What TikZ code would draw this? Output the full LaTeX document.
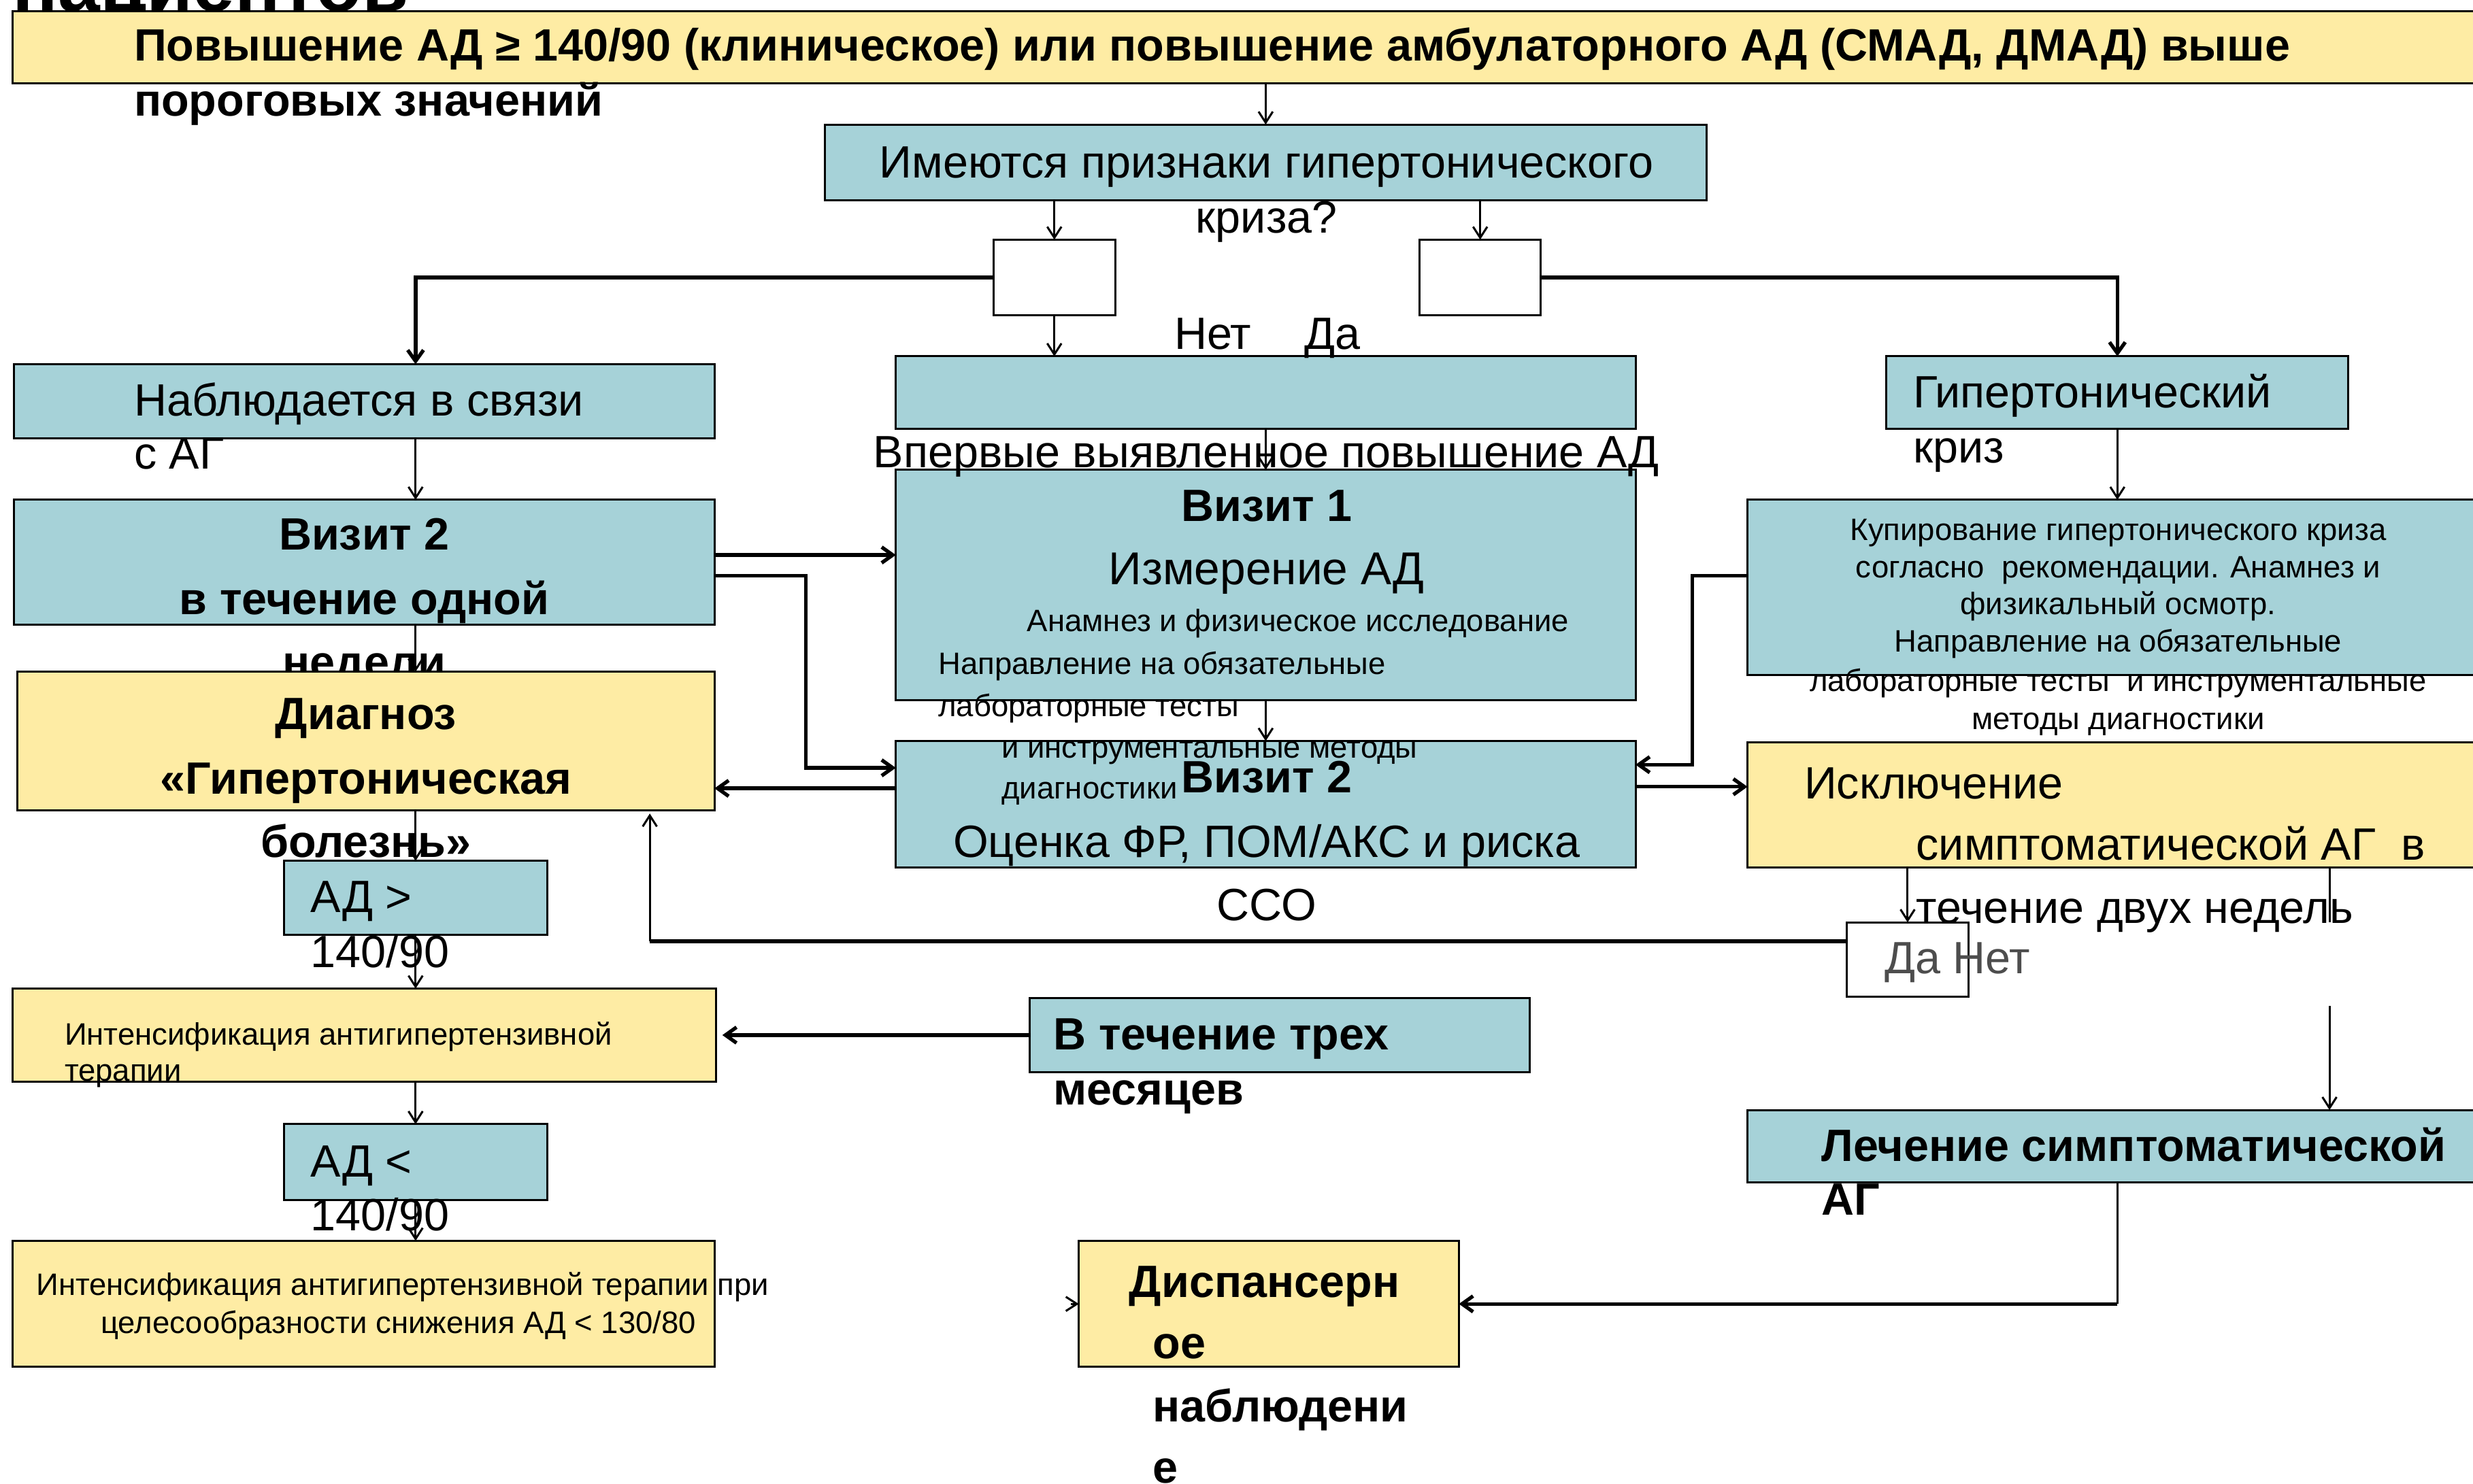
\documentclass[tikz,border=0pt]{standalone}
\usepackage{fontspec}
\setmainfont{Liberation Sans}
\usetikzlibrary{arrows.meta}
\definecolor{boxblue}{HTML}{A6D2D8}
\definecolor{boxyellow}{HTML}{FEECA4}
\definecolor{labelgray}{HTML}{4D4D4D}

\tikzset{
  boxbase/.style={draw=black, line width=1.3bp, inner sep=0, outer sep=0, rectangle},
  bluebox/.style={boxbase, fill=boxblue},
  yellowbox/.style={boxbase, fill=boxyellow},
  whitebox/.style={boxbase, fill=white},
  txt/.style={inner sep=0, outer sep=0, anchor=mid, yshift=-7bp},
  tbig/.style={txt, font=\fontsize{28.8}{28.8}\selectfont},
  tbigb/.style={txt, font=\fontsize{28.8}{28.8}\selectfont\bfseries},
  tsmall/.style={txt, yshift=3bp, font=\fontsize{19.7}{19.7}\selectfont},
  arr/.style={line width=1.3bp, -{Straight Barb[length=7bp,width=9bp]}},
  tarr/.style={line width=2.3bp, -{Straight Barb[length=7bp,width=10bp]}},
  tline/.style={line width=2.3bp},
  nline/.style={line width=1.3bp},
}
% box from its corners (x1,y1)-(x2,y2), y counted downwards
\newcommand\mkbox[6]{\node[#6, minimum width={#4bp-#2bp}, minimum height={#5bp-#3bp}] (#1) at ({(#2+#4)/2},{(#3+#5)/2}) {};}

\begin{document}
\begin{tikzpicture}[x=1bp,y=-1bp]
\useasboundingbox (0,0) rectangle (1568,941);
\clip (0,0) rectangle (1568,941);

% heading cut off at the top edge
\node[tbigb, anchor=base west] (head) at (8,0) {\fontsize{48}{48}\selectfont пациентов};

% boxes
\mkbox{top}{8}{7}{1580}{53}{yellowbox}
\mkbox{im}{523}{79}{1082}{127}{bluebox}
\mkbox{w1}{630}{152}{707}{200}{whitebox}
\mkbox{w2}{900}{152}{977}{200}{whitebox}
\mkbox{nab}{9}{231}{453}{278}{bluebox}
\mkbox{vp}{568}{226}{1037}{272}{bluebox}
\mkbox{gk}{1196}{226}{1489}{272}{bluebox}
\mkbox{vis2l}{9}{317}{453}{396}{bluebox}
\mkbox{v1}{568}{298}{1037}{444}{bluebox}
\mkbox{kup}{1108}{317}{1580}{428}{bluebox}
\mkbox{v2}{568}{470}{1037}{550}{bluebox}
\mkbox{isk}{1108}{471}{1580}{550}{yellowbox}
\mkbox{ad1}{180}{546}{347}{593}{bluebox}
\mkbox{dn}{1171}{585}{1248}{632}{whitebox}
\mkbox{int1}{8}{627}{454}{686}{yellowbox}
\mkbox{tri}{653}{633}{970}{680}{bluebox}
\mkbox{ad2}{180}{713}{347}{761}{bluebox}
\mkbox{int2}{8}{787}{453}{867}{yellowbox}
\mkbox{disp}{684}{787}{925}{867}{yellowbox}
\mkbox{lech}{1108}{704}{1580}{750}{bluebox}

% second visit text overflowing under the diagnosis box
\draw[arr] (vis2l.south -| ad1) -- (ad1 |- 0,426);
\node[tbigb] (vl3) at (231,420) {недели};
\mkbox{diag}{11}{426}{453}{514}{yellowbox}

% connectors
\draw[arr] (im.north |- top.south) -- (im.north);
\draw[arr] (im.south -| w1) -- (w1.north);
\draw[arr] (im.south -| w2) -- (w2.north);
\draw[tarr] (w1.west) -| (nab.north -| ad1.north);
\draw[tarr] (w2.east) -| (gk.north);
\draw[arr] (w1.south) -- (w1.south |- vp.north);
\draw[arr] (nab.south -| ad1) -- (vis2l.north -| ad1);
\draw[arr] (vp.south) -- (v1.north);
\draw[arr] (v1.south) -- (v2.north);
\draw[arr] (gk.south) -- (gk.south |- kup.north);
\draw[tarr] ([yshift=4.5bp]vis2l.east) coordinate (a1) -- (a1 -| v1.west);
\draw[tarr] ([yshift=-8.5bp]vis2l.east) -- ++(58,0) |- ([yshift=23bp]v2.west);
\draw[tarr] ([yshift=10bp]v2.west) coordinate (a2) -- (a2 -| diag.east);
\draw[tarr] ([yshift=11bp]v2.east) coordinate (a3) -- (a3 -| isk.west);
\draw[tarr] ([yshift=7.5bp]kup.west) -- ++(-35,0) |- ([yshift=25bp]v2.east);
\draw[arr] (diag.south -| ad1) -- (ad1.north);
\draw[arr] (ad1.south) -- (ad1.south |- int1.north);
\draw[arr] (int1.south -| ad2) -- (ad2.north);
\draw[arr] (ad2.south) -- (ad2.south |- int2.north);
\draw[tarr] (tri.west) -- ([xshift=4bp]tri.west -| int1.east);
\draw[arr] (isk.south -| dn.north) -- (dn.north);
\draw[nline] ([xshift=133bp]isk.south) -- ++(0,35);
\draw[arr] ([xshift=133bp,yshift=66bp]lech.north) -- ([xshift=133bp]lech.north);
\draw[tline] ([yshift=11.5bp]dn.west) -- ++(-759,0) coordinate (c1);
\draw[arr] (c1) -- ([yshift=-2bp]c1 |- diag.south);
\draw[nline] (gk.south |- lech.south) -- (gk.south |- disp.east) coordinate (c2);
\draw[tarr] (c2) -- (disp.east);
\draw[arr] ([xshift=-5bp]disp.west) -- (disp.west);

% texts
\node[tbigb, anchor=mid west] (ttl1) at (85,29) {Повышение АД ≥ 140/90 (клиническое) или повышение амбулаторного АД (СМАД, ДМАД) выше};
\node[tbigb, anchor=mid west] (ttl2) at (85,64) {пороговых значений};
\node[tbig] (im1) at (803,103) {Имеются признаки гипертонического};
\node[tbig] (im2) at (803,138) {криза?};
\node[tbig] (no1) at (769,212) {Нет};
\node[tbig] (yes1) at (845,212) {Да};
\node[tbig, anchor=mid west] (nab1) at (85,254) {Наблюдается в связи};
\node[tbig, anchor=mid west] (nab2) at (85,288) {с АГ};
\node[tbig] (vp1) at (803,287) {Впервые выявленное повышение АД};
\node[tbig, anchor=mid west] (gk1) at (1213,249) {Гипертонический};
\node[tbig, anchor=mid west] (gk2) at (1213,284) {криз};
\node[tbigb] (vl1) at (231,339) {Визит 2};
\node[tbigb] (vl2) at (231,380) {в течение одной};
\node[tbigb] (v11) at (803,321) {Визит 1};
\node[tbig, font=\fontsize{29.3}{29.3}\selectfont] (v12) at (803,361) {Измерение АД};
\node[tsmall] (v13) at (823,394) {Анамнез и физическое исследование};
\node[tsmall, anchor=mid west] (v14) at (595,421) {Направление на обязательные};
\node[tsmall, anchor=mid west] (v15) at (595,448) {лабораторные тесты};
\node[tsmall, anchor=mid west] (v16) at (635,474) {и инструментальные методы};
\node[tsmall, anchor=mid west] (v17) at (635,500) {диагностики};
\node[tbigb] (v21) at (803,493) {Визит 2};
\node[tbig] (v22) at (803,534) {Оценка ФР, ПОМ/АКС и риска};
\node[tbig] (v23) at (803,574) {ССО};
\node[tsmall] (k1) at (1343,336) {Купирование гипертонического криза};
\node[tsmall] (k2) at (1343,360) {согласно\ \ рекомендации. Анамнез и};
\node[tsmall] (k3) at (1343,383) {физикальный осмотр.};
\node[tsmall] (k4) at (1343,407) {Направление на обязательные};
\node[tsmall] (k5) at (1343,432) {лабораторные тесты\ \ и инструментальные};
\node[tsmall] (k6) at (1343,456) {методы диагностики};
\node[tbigb] (d1) at (232,453) {Диагноз};
\node[tbigb] (d2) at (232,494) {«Гипертоническая};
\node[tbigb] (d3) at (232,534) {болезнь»};
\node[tbig, anchor=mid west] (i1) at (1144,497) {Исключение};
\node[tbig, anchor=mid west] (i2) at (1215,536) {симптоматической АГ\ \ в};
\node[tbig, anchor=mid west] (i3) at (1215,576) {течение двух недель};
\node[tbig, anchor=mid west] (a11) at (197,569) {АД >};
\node[tbig, anchor=mid west] (a12) at (197,604) {140/90};
\node[tbig, anchor=mid west, text=labelgray] (dn1) at (1195,608) {Да Нет};
\node[tsmall, anchor=mid west] (n11) at (41,656) {Интенсификация антигипертензивной};
\node[tsmall, anchor=mid west] (n12) at (41,679) {терапии};
\node[tbigb, anchor=mid west] (t1) at (668,656) {В течение трех};
\node[tbigb, anchor=mid west] (t2) at (668,691) {месяцев};
\node[tbig, anchor=mid west] (a21) at (197,737) {АД <};
\node[tbig, anchor=mid west] (a22) at (197,771) {140/90};
\node[tsmall, anchor=mid west] (n21) at (23,815) {Интенсификация антигипертензивной терапии при};
\node[tsmall, anchor=mid west] (n22) at (64,839) {целесообразности снижения АД < 130/80};
\node[tbigb, anchor=mid west] (l1) at (1155,727) {Лечение симптоматической};
\node[tbigb, anchor=mid west] (l2) at (1155,761) {АГ};
\node[tbigb, anchor=mid west] (s1) at (716,813) {Диспансерн};
\node[tbigb, anchor=mid west] (s2) at (731,852) {ое};
\node[tbigb, anchor=mid west] (s3) at (731,892) {наблюдени};
\node[tbigb, anchor=mid west] (s4) at (731,931) {е};
\end{tikzpicture}
\end{document}
